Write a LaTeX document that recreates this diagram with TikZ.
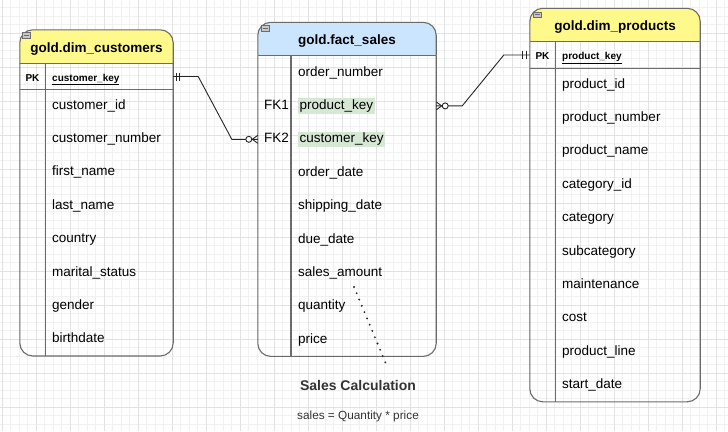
\documentclass[tikz,border=0pt]{standalone}
\usepackage{fontspec}
\setmainfont{Liberation Sans}
\usetikzlibrary{arrows.meta, positioning, calc, backgrounds, decorations.markings}
\definecolor{dimyellow}{HTML}{FFF88A}
\definecolor{factblue}{HTML}{CCE5FF}
\definecolor{keygreen}{HTML}{D5E8D4}
\definecolor{framegray}{HTML}{6B6B6B}
\definecolor{gridminor}{HTML}{F1F1F1}
\definecolor{gridmajor}{HTML}{E2E2E2}
\definecolor{notegray}{HTML}{333333}
\newcommand{\keyhl}[1]{{\setlength{\fboxsep}{1.5pt}\colorbox{keygreen}{#1}}}

\begin{document}
\begin{tikzpicture}[
  x=1pt, y=-1pt,
  font=\fontsize{13.5}{16}\selectfont,
  tbltitle/.style={minimum height=33pt, inner sep=0pt, text height=11pt, text depth=0pt, font=\fontsize{13.5}{16}\selectfont\bfseries},
  field/.style={text width=#1, align=left, inner sep=0pt, minimum height=33pt, text height=10pt, text depth=3pt},
  field/.default=115pt,
  keylbl/.style={inner sep=0pt, minimum height=26pt, text height=9pt, text depth=0pt, font=\fontsize{10}{12}\selectfont\bfseries},
  fklbl/.style={inner sep=0pt, text height=10pt, text depth=3pt},
  tblframe/.style={draw=framegray, line width=1.1pt, rounded corners=13pt},
  tblline/.style={draw=framegray, line width=1.1pt},
  minbox/.style={draw=framegray, fill=black!22, minimum width=8pt, minimum height=5.5pt, inner sep=0pt, line width=0.5pt,
    path picture={\draw[line width=0.9pt] ([xshift=1.5pt]path picture bounding box.west) -- ([xshift=-1.5pt]path picture bounding box.east);}},
  rel/.style={draw=black!85, line width=0.9pt},
  one start/.style={postaction={decorate, decoration={markings,
    mark=at position 3pt with {\draw[rel] (0pt,-4pt) -- (0pt,4pt);},
    mark=at position 6.5pt with {\draw[rel] (0pt,-4pt) -- (0pt,4pt);}}}},
  one end/.style={postaction={decorate, decoration={markings,
    mark=at position -3.5pt with {\draw[rel] (0pt,-4pt) -- (0pt,4pt);},
    mark=at position -7pt with {\draw[rel] (0pt,-4pt) -- (0pt,4pt);}}}},
  many start/.style={postaction={decorate, decoration={markings,
    mark=at position 0 with {\draw[rel] (0pt,-4pt) -- (5.5pt,0pt) -- (0pt,4pt);
      \draw[rel, fill=white] (9pt,0pt) circle (3pt);}}}},
  many end/.style={postaction={decorate, decoration={markings,
    mark=at position 1 with {\draw[rel] (0pt,-4pt) -- (-5.5pt,0pt) -- (0pt,4pt);
      \draw[rel, fill=white] (-9pt,0pt) circle (3pt);}}}},
  noteline/.style={draw=black!85, line width=2.1pt, line cap=round, dash pattern=on 0pt off 6.8pt},
  gridmin/.style={draw=gridminor, line width=0.8pt},
  gridmaj/.style={draw=gridmajor, line width=0.8pt}
]
\useasboundingbox (0,0) rectangle (728,431);

% --- Canvas grid ---
\begin{scope}[on background layer]
\foreach \gx in {-6.5,2,...,730} \draw[gridmin] (\gx,0) -- (\gx,431);
\foreach \gy in {-1,7.5,...,435} \draw[gridmin] (0,\gy) -- (728,\gy);
\foreach \gx in {2,36,...,730} \draw[gridmaj] (\gx,0) -- (\gx,431);
\foreach \gy in {-1,33,...,435} \draw[gridmaj] (0,\gy) -- (728,\gy);
\end{scope}

% --- gold.dim_customers ---
\node[tbltitle, minimum width=153pt] (custTitle) at (96.5,46.5) {gold.dim\_customers};
\node[keylbl, minimum width=25pt] (custPK) at (32.5,76.5) {PK};
\node[keylbl, anchor=west] (custKey) at (52,76.5) {\underline{customer\_key}};
\node[field, anchor=west] (cust1) at (52,105.5) {customer\_id};
\node[field, below=0pt of cust1] (cust2) {customer\_number};
\node[field, below=0pt of cust2] (cust3) {first\_name};
\node[field, below=0pt of cust3] (cust4) {last\_name};
\node[field, below=0pt of cust4] (cust5) {country};
\node[field, below=0pt of cust5] (cust6) {marital\_status};
\node[field, below=0pt of cust6] (cust7) {gender};
\node[field, below=0pt of cust7] (cust8) {birthdate};

% --- gold.fact_sales ---
\node[tbltitle, minimum width=178pt] (factTitle) at (347,39) {gold.fact\_sales};
\coordinate (factDiv) at (291,0);
\node[field=125pt, anchor=west] (fact1) at (298,72.5) {order\_number};
\node[field=125pt, below=0pt of fact1] (fact2) {\keyhl{product\_key}};
\node[field=125pt, below=0pt of fact2] (fact3) {\keyhl{customer\_key}};
\node[field=125pt, below=0pt of fact3] (fact4) {order\_date};
\node[field=125pt, below=0pt of fact4] (fact5) {shipping\_date};
\node[field=125pt, below=0pt of fact5] (fact6) {due\_date};
\node[field=125pt, below=0pt of fact6] (fact7) {sales\_amount};
\node[field=125pt, below=0pt of fact7] (fact8) {quantity};
\node[field=125pt, below=0pt of fact8] (fact9) {price};
\node[fklbl, left=9pt of fact2] (fk1) {FK1};
\node[fklbl, left=9pt of fact3] (fk2) {FK2};

% --- gold.dim_products ---
\node[tbltitle, minimum width=170pt] (prodTitle) at (615,25) {gold.dim\_products};
\node[keylbl, minimum width=25pt] (prodPK) at (542.5,55) {PK};
\node[keylbl, anchor=west] (prodKey) at (562,55) {\underline{product\_key}};
\node[field=125pt, anchor=west] (prod1) at (562,84.5) {product\_id};
\node[field=125pt, below=0pt of prod1] (prod2) {product\_number};
\node[field=125pt, below=0pt of prod2] (prod3) {product\_name};
\node[field=125pt, below=0pt of prod3] (prod4) {category\_id};
\node[field=125pt, below=0pt of prod4] (prod5) {category};
\node[field=125pt, below=0pt of prod5] (prod6) {subcategory};
\node[field=125pt, below=0pt of prod6] (prod7) {maintenance};
\node[field=125pt, below=0pt of prod7] (prod8) {cost};
\node[field=125pt, below=0pt of prod8] (prod9) {product\_line};
\node[field=125pt, below=0pt of prod9] (prod10) {start\_date};

% --- Table frames ---
\begin{scope}[on background layer]
\filldraw[tblframe, fill=dimyellow] (custTitle.south west) |- (custTitle.north east) -- (custTitle.south east);
\filldraw[tblframe, fill=factblue] (factTitle.south west) |- (factTitle.north east) -- (factTitle.south east);
\filldraw[tblframe, fill=dimyellow] (prodTitle.south west) |- (prodTitle.north east) -- (prodTitle.south east);
\end{scope}
\draw[tblframe] (custTitle.south west) |- (custTitle.east |- cust8.south) -- (custTitle.south east);
\draw[tblframe] (factTitle.south west) |- (factTitle.east |- fact9.south) -- (factTitle.south east);
\draw[tblframe] (prodTitle.south west) |- (prodTitle.east |- prod10.south) -- (prodTitle.south east);
\draw[tblline] (custTitle.south west) -- (custTitle.south east);
\draw[tblline] (factTitle.south west) -- (factTitle.south east);
\draw[tblline] (prodTitle.south west) -- (prodTitle.south east);
\draw[tblline] (custPK.south west) -- (custTitle.east |- custPK.south);
\draw[tblline] (prodPK.south west) -- (prodTitle.east |- prodPK.south);
\draw[tblline] (custPK.north east) -- (custPK.east |- cust8.south);
\draw[tblline] (factDiv |- factTitle.south) -- (factDiv |- fact9.south);
\draw[tblline] (prodPK.north east) -- (prodPK.east |- prod10.south);

% collapse buttons
\node[minbox] (custMin) at (26.3,35.3) {};
\node[minbox] (factMin) at (265.3,28.3) {};
\node[minbox] (prodMin) at (537.3,14.8) {};

% --- Relationships ---
\draw[rel, one start, many end] (custTitle.east |- custKey) -- ++(25,0) -- ($(factTitle.west |- fact3)+(-26,0)$) -- (factTitle.west |- fact3);
\draw[rel, many start, one end] (factTitle.east |- fact2) -- ++(26,0) -- ($(prodTitle.west |- prodKey)+(-26,0)$) -- (prodTitle.west |- prodKey);

% --- Sales note ---
\node[font=\fontsize{14}{16}\selectfont\bfseries, text=notegray] (calcTitle) at (358,385) {Sales Calculation};
\node[font=\fontsize{11.8}{14}\selectfont, text=notegray] (calcFormula) at (358,416) {sales = Quantity * price};
\coordinate (amtDot) at (354,287);
\coordinate (calcDot) at (386,364);
\draw[noteline] (amtDot) -- (calcDot);

\end{tikzpicture}
\end{document}
